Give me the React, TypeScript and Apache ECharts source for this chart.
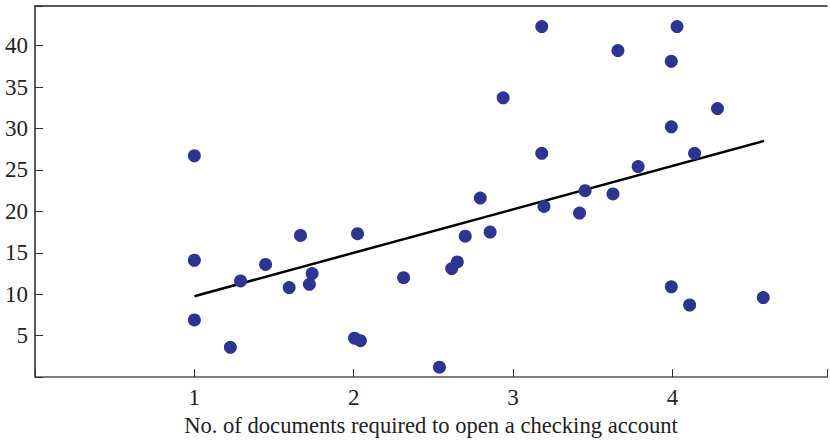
import React, { useEffect, useRef } from "react";
import * as echarts from "echarts";

const docsX: number[] = [
  1.0, 1.0, 1.0, 1.226, 1.29, 1.447, 1.595, 1.666, 1.722, 1.739,
  2.024, 2.005, 2.042, 2.313, 2.538, 2.615, 2.65, 2.70, 2.856, 2.794,
  3.194, 3.18, 2.938, 3.18, 4.029, 3.658, 3.993, 4.283, 3.993, 4.139,
  3.785, 3.452, 3.627, 3.417, 3.993, 4.108, 4.57,
];
const feesY: number[] = [
  26.7, 14.1, 6.9, 3.6, 11.6, 13.6, 10.8, 17.1, 11.2, 12.5,
  17.3, 4.7, 4.4, 12.0, 1.2, 13.1, 13.9, 17.0, 17.5, 21.6,
  20.6, 27.0, 33.7, 42.3, 42.3, 39.4, 38.1, 32.4, 30.2, 27.0,
  25.4, 22.5, 22.1, 19.8, 10.9, 8.7, 9.6,
];
const fitX: number[] = [1.0, 4.575];
const fitY: number[] = [9.76, 28.5];
const xTickLabels: number[] = [1, 2, 3, 4];
const yTickLabels: number[] = [5, 10, 15, 20, 25, 30, 35, 40];
const xTitle = "No. of documents required to open a checking account";

const FONT = "'Liberation Serif', 'Times New Roman', serif";

export default function App() {
  const ref = useRef<HTMLDivElement>(null);
  useEffect(() => {
    if (!ref.current) return;
    const chart = echarts.init(ref.current, undefined, { renderer: "svg" });
    const points = docsX.map((x, i) => [x, feesY[i]]);
    const line = fitX.map((x, i) => [x, fitY[i]]);
    chart.setOption({
      animation: false,
      backgroundColor: "#ffffff",
      grid: { left: 35, right: 0, top: 6, bottom: 61, containLabel: false },
      xAxis: [
        {
          type: "value",
          min: 0,
          max: 4.97,
          interval: 1,
          splitLine: { show: false },
          axisLine: { show: true, lineStyle: { color: "#555555", width: 1.5 } },
          axisTick: { show: true, inside: true, length: 8, lineStyle: { color: "#333333", width: 1 } },
          axisLabel: {
            color: "#222222",
            fontFamily: FONT,
            fontSize: 23,
            margin: 9,
            formatter: (v: number) => (xTickLabels.includes(v) ? String(v) : ""),
          },
          name: xTitle,
          nameLocation: "middle",
          nameGap: 36,
          nameTextStyle: { color: "#222222", fontFamily: FONT, fontSize: 22.6 },
        },
        {
          type: "value",
          position: "top",
          min: 0,
          max: 4.97,
          axisLine: { show: true, onZero: false, lineStyle: { color: "#222222", width: 1.5 } },
          axisTick: { show: false },
          axisLabel: { show: false },
          splitLine: { show: false },
        },
      ],
      yAxis: {
        type: "value",
        min: 0,
        max: 44.78,
        interval: 5,
        splitLine: { show: false },
        axisLine: { show: true, lineStyle: { color: "#222222", width: 1.5 } },
        axisTick: { show: true, inside: true, length: 8, lineStyle: { color: "#333333", width: 1 } },
        axisLabel: {
          color: "#222222",
          fontFamily: FONT,
          fontSize: 23,
          margin: 7,
          formatter: (v: number) => (yTickLabels.includes(v) ? String(v) : ""),
        },
      },
      series: [
        {
          type: "line",
          data: line,
          symbol: "none",
          lineStyle: { color: "#000000", width: 2.5 },
          z: 2,
        },
        {
          type: "scatter",
          data: points,
          symbolSize: 13,
          itemStyle: { color: "#2e3591", opacity: 1 },
          z: 3,
        },
      ],
    });
    return () => chart.dispose();
  }, []);
  return <div ref={ref} style={{ width: 830, height: 442, position: "absolute", left: 0, top: 0 }} />;
}
